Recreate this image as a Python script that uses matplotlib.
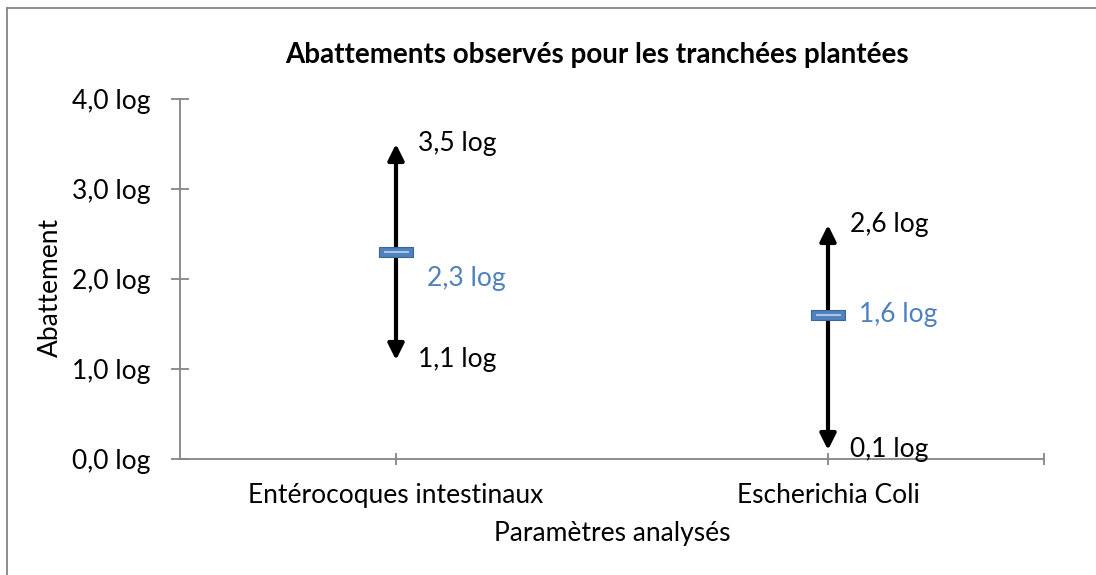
import numpy as np
import matplotlib.pyplot as plt
from matplotlib.ticker import FuncFormatter

# data
categories = ["Entérocoques intestinaux", "Escherichia Coli"]
min_vals = [1.1, 0.1]
max_vals = [3.5, 2.6]
mean_vals = [2.3, 1.6]
yticks = [0, 1, 2, 3, 4]

plt.rcParams['font.family'] = ['Lato', 'DejaVu Sans']
axis_grey = "#868686"
mean_blue = "#4F81BD"
fs = 19

def fmt(v, pos=None):
    return ("%.1f log" % v).replace(".", ",")

fig = plt.figure(figsize=(10.96, 5.75), dpi=100)
ax = fig.add_axes([180/1096, 1-459/575, 864/1096, 360/575])
x = np.arange(len(categories))

# min -> max arrows
for xi, lo, hi in zip(x, min_vals, max_vals):
    ax.annotate("", xy=(xi, hi), xytext=(xi, lo),
                arrowprops=dict(arrowstyle="<|-|>", color="black", lw=3,
                                mutation_scale=24, shrinkA=0, shrinkB=0))
    ax.annotate(fmt(hi), (xi, hi), xytext=(16, 0), textcoords="offset points",
                va="center", ha="left", fontsize=fs)
    ax.annotate(fmt(lo), (xi, lo), xytext=(16, 0), textcoords="offset points",
                va="center", ha="left", fontsize=fs)

# mean markers
rect = [(-1, -0.28), (1, -0.28), (1, 0.28), (-1, 0.28), (-1, -0.28)]
ax.plot(x, mean_vals, ls="none", marker=rect, markersize=24,
        markerfacecolor=mean_blue, markeredgecolor="#3A6797", markeredgewidth=0.8, zorder=5)
ax.plot(x, mean_vals, ls="none", marker="_", markersize=18, mew=1.5,
        color="#A9C4E6", zorder=6)
mean_off = [(22, -19), (22, 0)]
for xi, m, off in zip(x, mean_vals, mean_off):
    ax.annotate(fmt(m), (xi, m), xytext=off, textcoords="offset points",
                va="center", ha="left", fontsize=fs, color=mean_blue)

ax.set_xlim(-0.5, 1.5)
ax.set_ylim(0, 4)
ax.set_yticks(yticks)
ax.yaxis.set_major_formatter(FuncFormatter(fmt))
ax.set_xticks([0, 1, 1.5])
ax.set_xticklabels(categories + [""])
for s in ["top", "right"]:
    ax.spines[s].set_visible(False)
for s in ["left", "bottom"]:
    ax.spines[s].set_color(axis_grey)
    ax.spines[s].set_linewidth(1.3)
ax.tick_params(axis="y", direction="inout", length=13, width=1.3, color=axis_grey,
               labelsize=fs, pad=15)
ax.tick_params(axis="x", direction="inout", length=9, width=1.3, color=axis_grey,
               labelsize=fs, pad=13)

fig.text(597/1096, 1-55/575, "Abattements observés pour les tranchées plantées",
         ha="center", va="center", fontsize=20, fontweight="bold")
fig.text(50/1096, 1-287/575, "Abattement", rotation=90, ha="center", va="center", fontsize=fs)
fig.text(612/1096, 1-534/575, "Paramètres analysés", ha="center", va="center", fontsize=fs)

# chart border (top and left visible in the reference)
fig.add_artist(plt.Line2D([7/1096, 7/1096], [0, 1-8/575], color=axis_grey, lw=1.3))
fig.add_artist(plt.Line2D([7/1096, 1], [1-8/575, 1-8/575], color=axis_grey, lw=1.3))

fig.savefig("out.png", dpi=100)
